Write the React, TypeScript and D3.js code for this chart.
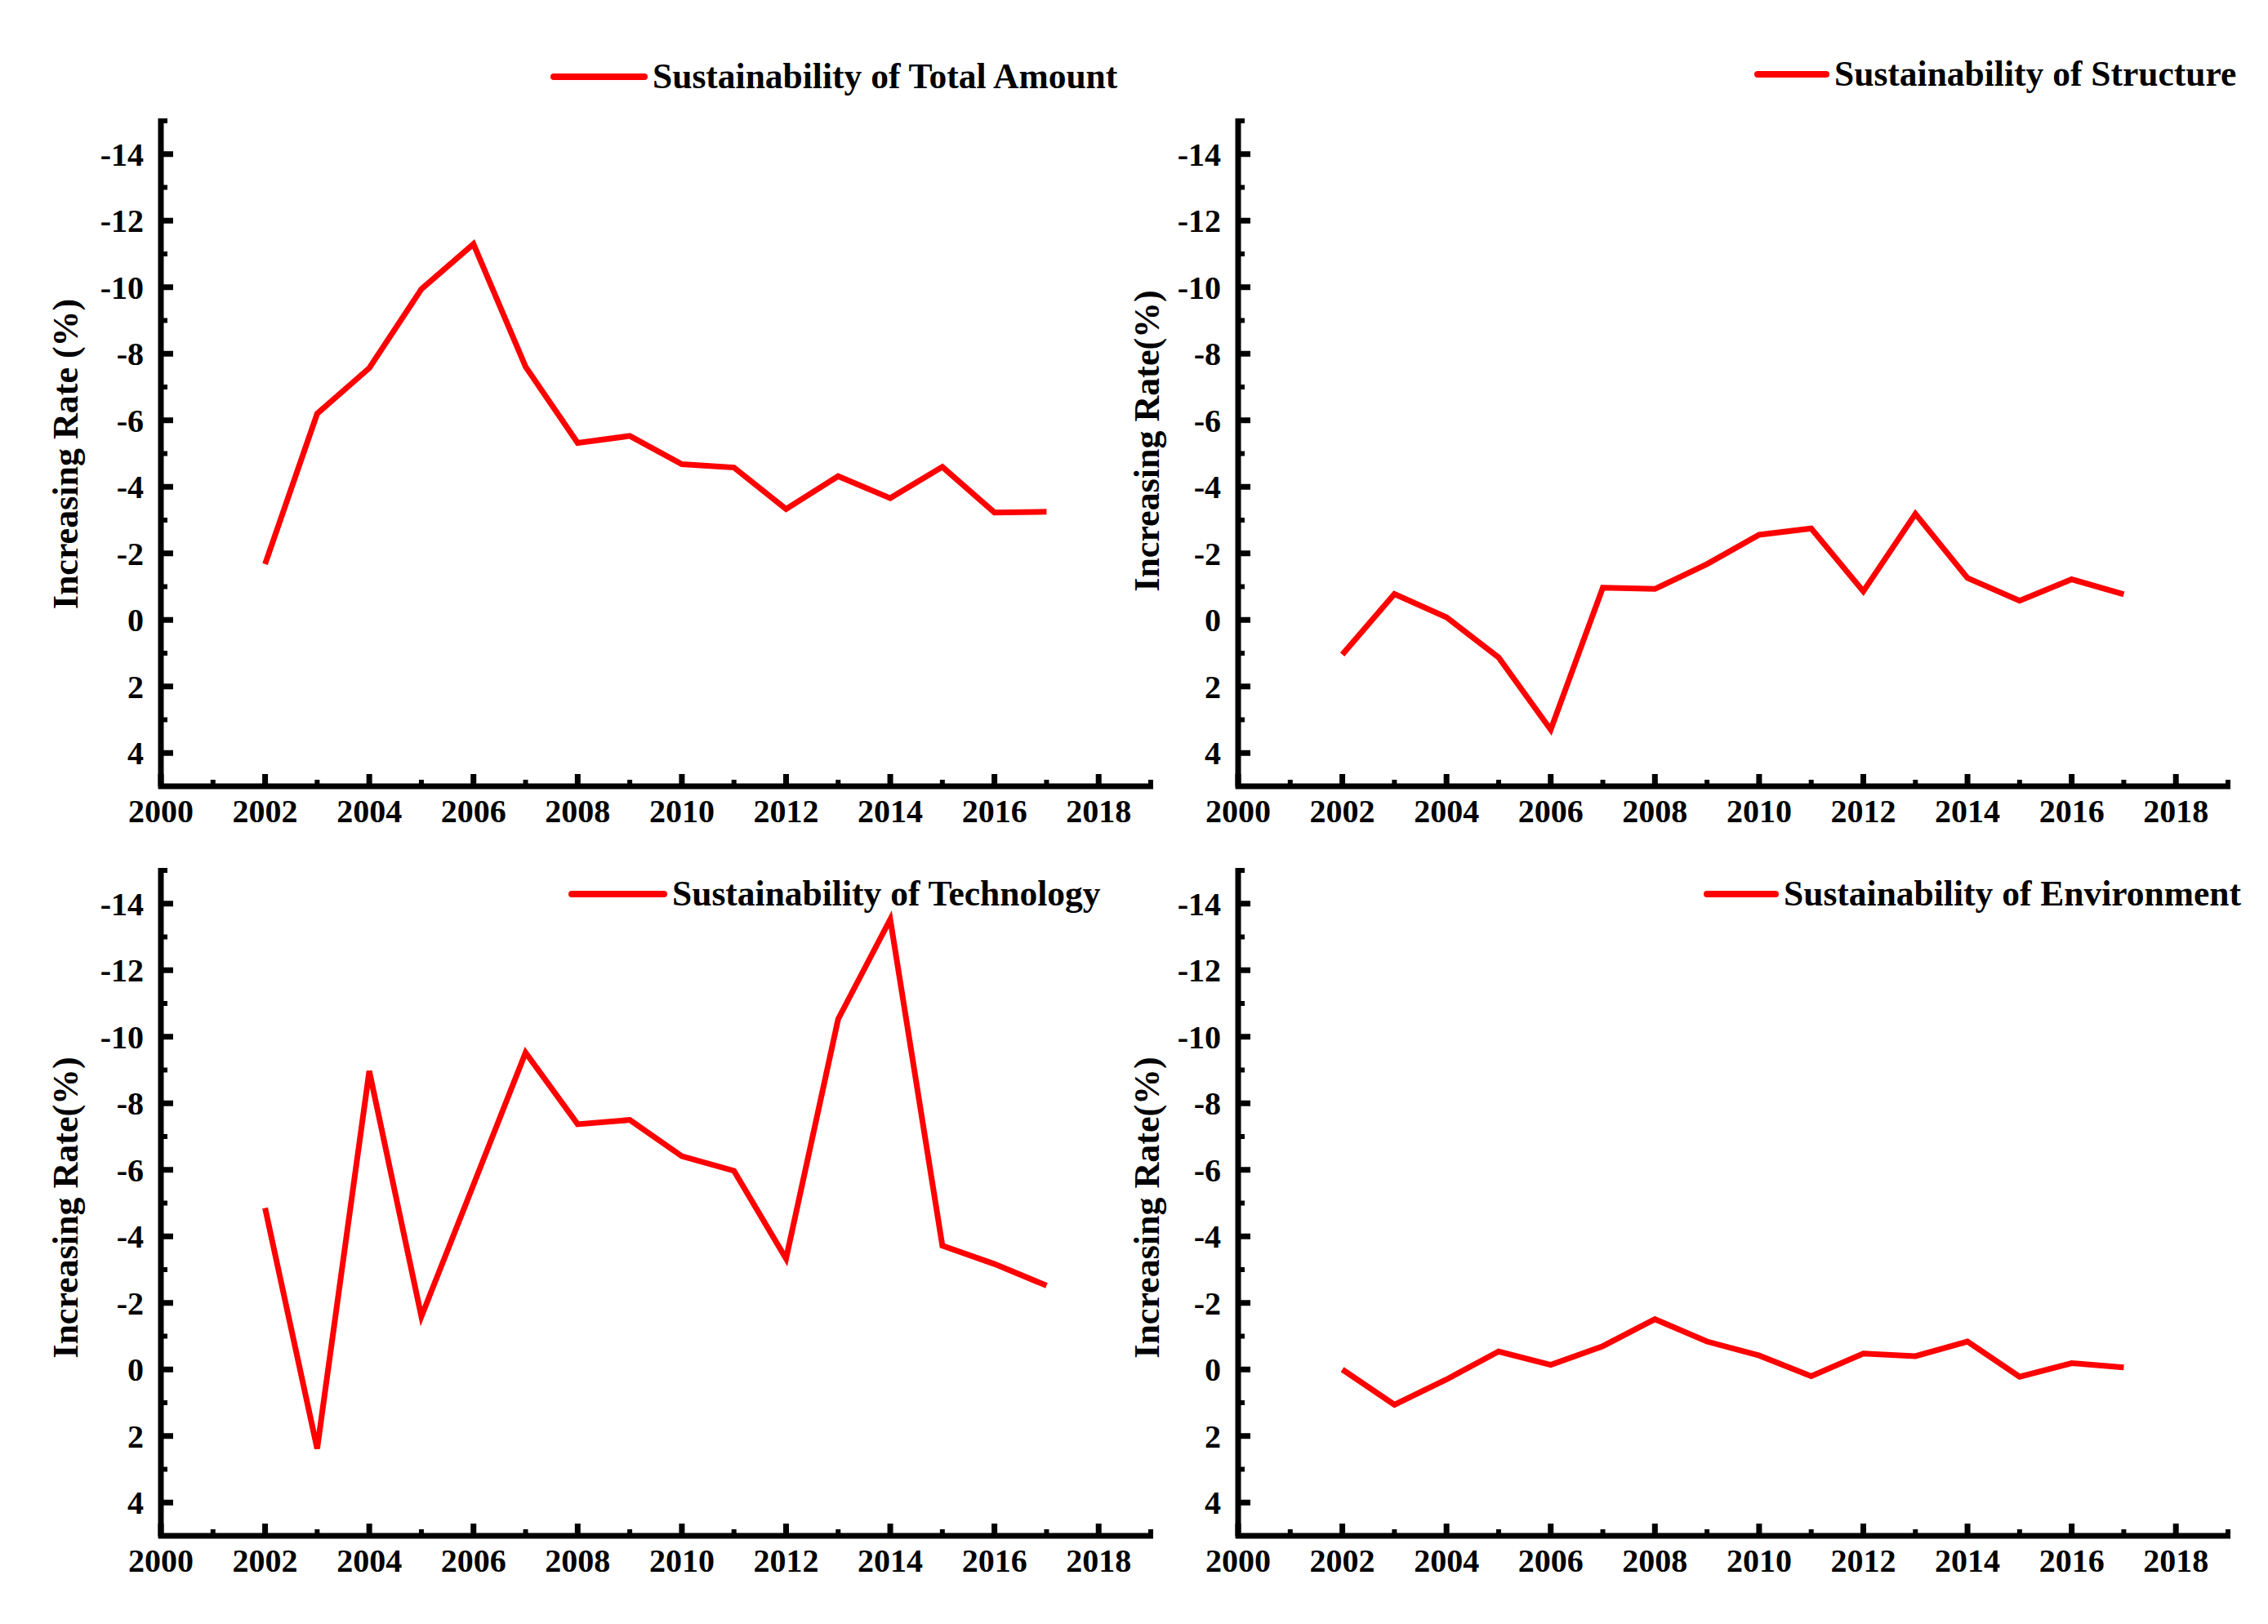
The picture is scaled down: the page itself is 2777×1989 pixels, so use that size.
import * as d3 from 'd3';

const years = [2002, 2003, 2004, 2005, 2006, 2007, 2008, 2009, 2010, 2011, 2012, 2013, 2014, 2015, 2016, 2017];

const totalAmount = [-1.68, -6.2, -7.57, -9.94, -11.3, -7.61, -5.32, -5.53, -4.68, -4.58, -3.33, -4.32, -3.66, -4.6, -3.23, -3.25];
const structure = [1.04, -0.78, -0.08, 1.13, 3.3, -0.97, -0.93, -1.68, -2.56, -2.75, -0.86, -3.19, -1.26, -0.58, -1.22, -0.77];
const technology = [-4.85, 2.38, -8.97, -1.59, -5.55, -9.52, -7.37, -7.5, -6.41, -5.97, -3.33, -10.53, -13.53, -3.72, -3.17, -2.52];
const environment = [0, 1.06, 0.3, -0.54, -0.14, -0.7, -1.51, -0.84, -0.42, 0.2, -0.48, -0.4, -0.84, 0.22, -0.19, -0.06];

const seriesNames = [
    'Sustainability of Total Amount',
    'Sustainability of Structure',
    'Sustainability of Technology',
    'Sustainability of Environment',
];
const yLabels = ['Increasing Rate (%)', 'Increasing Rate(%)', 'Increasing Rate(%)', 'Increasing Rate(%)'];
const seriesValues = [totalAmount, structure, technology, environment];

const xDomain: [number, number] = [2000, 2019];
const yDomain: [number, number] = [-15, 5];

const W = 2777;
const H = 1989;
const FONT = '"Palatino Linotype","Book Antiqua",Palatino,"Liberation Serif","Times New Roman",serif';
const RED = '#ff0000';

// layout of each panel (pixel positions of the axes, legend and axis title)
const layouts = [
    { left: 197, top: 148, legendX: 678, legendLen: 111, legendY: 94, labelX: 95, labelY: 556 },
    { left: 1516, top: 148, legendX: 2152, legendLen: 84, legendY: 91, labelX: 1419, labelY: 540 },
    { left: 197, top: 1066, legendX: 700, legendLen: 113, legendY: 1095, labelX: 95, labelY: 1479 },
    { left: 1516, top: 1066, legendX: 2090, legendLen: 84, legendY: 1095, labelX: 1419, labelY: 1479 },
];

const plotW = 1212;
const plotH = 815;

interface PanelProps {
    name: string;
    yLabel: string;
    values: number[];
    layout: typeof layouts[number];
}

function Panel({ name, yLabel, values, layout }: PanelProps) {
    const { left, top, legendX, legendLen, legendY, labelX, labelY } = layout;
    const bottom = top + plotH;

    const x = d3.scaleLinear().domain(xDomain).range([left, left + plotW]);
    const y = d3.scaleLinear().domain(yDomain).range([top, bottom]);

    const line = d3.line<number>()
        .x((_, i) => x(years[i]))
        .y((d) => y(d));

    const xMajor = x.ticks(10);
    const xMinor = x.ticks(20).filter((t) => t % 2 !== 0);
    const yMajor = y.ticks(10);
    const yMinor = y.ticks(20).filter((t) => Math.abs(t) % 2 === 1 && t !== 5);

    return (
        <g>
            <path d={line(values) || ''} fill="none" stroke={RED} strokeWidth={7} strokeLinejoin="miter" />

            {/* axes */}
            <line x1={left} x2={left} y1={top - 3} y2={bottom + 3} stroke="black" strokeWidth={7} />
            <line x1={left - 3} x2={x(2019) + 3} y1={bottom} y2={bottom} stroke="black" strokeWidth={7} />

            {yMajor.map((t) => (
                <g key={'ym' + t}>
                    <line x1={left} x2={left + 15} y1={y(t)} y2={y(t)} stroke="black" strokeWidth={7} />
                    <text x={left - 21} y={y(t)} dy="0.35em" textAnchor="end" fontSize={40} fontWeight="bold" fontFamily={FONT}>
                        {String(t)}
                    </text>
                </g>
            ))}
            {yMinor.map((t) => (
                <line key={'yn' + t} x1={left} x2={left + 8} y1={y(t)} y2={y(t)} stroke="black" strokeWidth={6} />
            ))}

            {xMajor.map((t) => (
                <g key={'xm' + t}>
                    <line x1={x(t)} x2={x(t)} y1={bottom} y2={bottom - 15} stroke="black" strokeWidth={7} />
                    <text x={x(t)} y={bottom + 44} textAnchor="middle" fontSize={40} fontWeight="bold" fontFamily={FONT}>
                        {String(t)}
                    </text>
                </g>
            ))}
            {xMinor.map((t) => (
                <line key={'xn' + t} x1={x(t)} x2={x(t)} y1={bottom} y2={bottom - 8} stroke="black" strokeWidth={6} />
            ))}

            {/* axis title */}
            <text
                transform={`translate(${labelX},${labelY}) rotate(-90)`}
                textAnchor="middle"
                fontSize={44}
                fontWeight="bold"
                fontFamily={FONT}
            >
                {yLabel}
            </text>

            {/* legend */}
            <line x1={legendX} x2={legendX + legendLen} y1={legendY} y2={legendY} stroke={RED} strokeWidth={8} strokeLinecap="round" />
            <text x={legendX + legendLen + 10} y={legendY} dy="0.33em" fontSize={43.5} fontWeight="bold" fontFamily={FONT}>
                {name}
            </text>
        </g>
    );
}

export default function App() {
    return (
        <svg
            width={W}
            height={H}
            viewBox={`0 0 ${W} ${H}`}
            style={{ position: 'absolute', left: 0, top: 0, background: 'white', display: 'block' }}
        >
            <rect width={W} height={H} fill="white" />
            {seriesNames.map((name, i) => (
                <Panel key={name} name={name} yLabel={yLabels[i]} values={seriesValues[i]} layout={layouts[i]} />
            ))}
        </svg>
    );
}
